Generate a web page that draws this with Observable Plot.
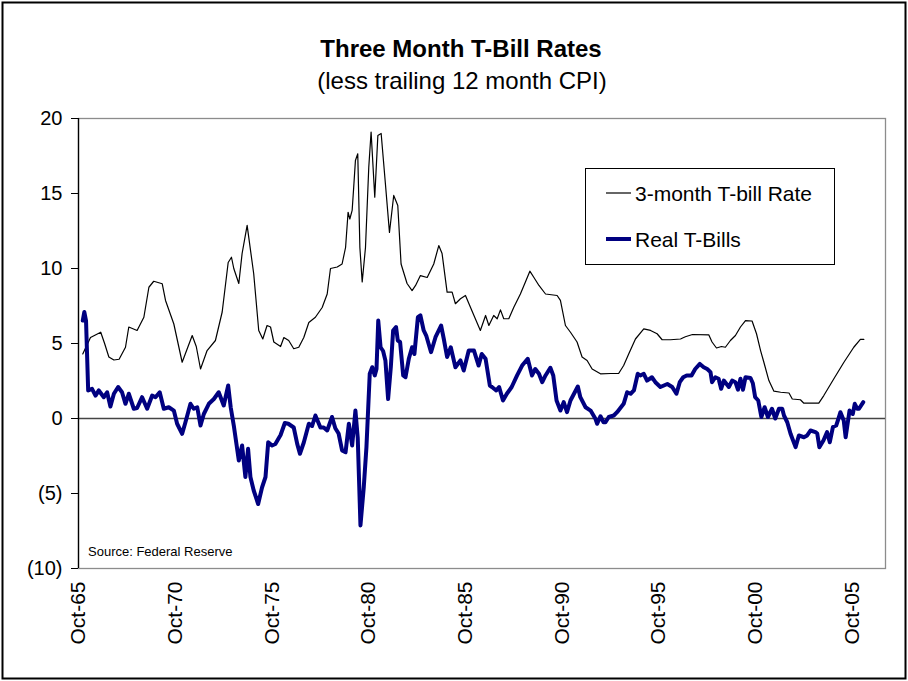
<!DOCTYPE html>
<html>
<head>
<meta charset="utf-8">
<script src="https://cdn.jsdelivr.net/npm/d3@7"></script>
<script src="https://cdn.jsdelivr.net/npm/@observablehq/plot@0.6"></script>
<style>
  html, body { margin: 0; padding: 0; background: white; }
  #chart { width: 908px; height: 681px; }
</style>
</head>
<body>
<div id="chart"></div>
<script>
// ---- Data (decimal years) ----
const tbillYears = [1965.97,1966.37,1966.9,1967.1,1967.32,1967.58,1967.85,1968.18,1968.35,1968.78,1969.13,1969.39,1969.64,1970.08,1970.25,1970.68,1971.11,1971.63,1971.84,1972.06,1972.4,1972.83,1973.18,1973.49,1973.66,1973.78,1974.04,1974.21,1974.47,1974.81,1975.07,1975.28,1975.5,1975.68,1975.85,1976.2,1976.37,1976.62,1976.88,1977.14,1977.4,1977.66,1978.0,1978.35,1978.61,1978.78,1979.13,1979.38,1979.56,1979.69,1979.78,1979.9,1979.98,1980.07,1980.19,1980.3,1980.42,1980.59,1980.76,1980.88,1981.07,1981.23,1981.4,1981.62,1981.83,1982.05,1982.26,1982.43,1982.74,1983.0,1983.18,1983.43,1983.78,1984.12,1984.38,1984.55,1984.81,1985.07,1985.24,1985.5,1985.76,1986.16,1986.53,1986.8,1986.97,1987.22,1987.4,1987.57,1987.74,1988.0,1988.26,1988.6,1988.86,1989.09,1989.3,1989.56,1989.9,1990.5,1990.67,1990.93,1991.19,1991.53,1991.79,1992.05,1992.31,1992.74,1993.26,1993.68,1993.94,1994.2,1994.55,1994.98,1995.33,1995.67,1995.93,1996.36,1996.88,1997.13,1997.5,1998.34,1998.51,1998.74,1999.0,1999.2,1999.46,1999.72,1999.98,2000.24,2000.58,2000.81,2001.02,2001.19,2001.45,2001.71,2002.06,2002.49,2002.66,2003.08,2003.26,2004.03,2004.29,2004.81,2005.33,2005.84,2006.18,2006.36];
const tbillRates = [4.3,5.4,5.75,5.0,4.1,3.9,3.95,4.75,6.1,5.87,6.75,8.75,9.15,8.98,7.87,6.3,3.75,5.53,4.8,3.3,4.53,5.2,7.1,10.4,10.75,10.0,9.0,11.0,12.87,9.65,5.87,5.3,6.2,6.1,5.1,4.8,5.4,5.2,4.65,4.75,5.4,6.4,6.75,7.4,8.3,10.0,10.1,10.3,11.4,13.75,13.3,13.87,15.4,17.2,17.65,11.4,9.1,11.4,16.75,19.1,14.75,18.87,19.0,15.65,12.4,14.87,14.2,10.3,9.0,8.53,8.87,9.53,9.4,10.3,11.53,11.0,8.42,8.42,7.65,7.98,8.2,6.98,5.87,6.87,6.2,6.87,6.65,7.24,6.65,6.65,7.42,8.3,9.1,9.82,9.4,8.87,8.3,8.2,7.87,6.2,5.75,5.1,4.1,3.87,3.3,2.98,3.0,3.0,3.53,4.3,5.3,5.98,5.87,5.65,5.25,5.25,5.3,5.45,5.6,5.58,5.1,4.7,4.8,4.75,5.2,5.53,6.1,6.53,6.5,5.65,4.53,3.75,2.53,1.82,1.75,1.7,1.3,1.25,1.02,1.02,1.53,2.65,3.75,4.75,5.27,5.27];

const realYears = [1965.97,1966.05,1966.14,1966.25,1966.45,1966.63,1966.8,1967.06,1967.23,1967.4,1967.58,1967.8,1968.0,1968.18,1968.35,1968.61,1968.78,1969.04,1969.3,1969.56,1969.73,1969.95,1970.16,1970.42,1970.68,1970.85,1971.11,1971.28,1971.54,1971.71,1971.89,1972.06,1972.23,1972.49,1972.75,1973.0,1973.26,1973.49,1973.62,1973.78,1974.04,1974.21,1974.38,1974.52,1974.64,1974.81,1975.04,1975.24,1975.42,1975.56,1975.76,1975.93,1976.2,1976.42,1976.6,1976.88,1977.06,1977.2,1977.4,1977.66,1977.83,1978.0,1978.26,1978.43,1978.61,1978.86,1979.03,1979.2,1979.38,1979.56,1979.73,1979.9,1980.07,1980.19,1980.33,1980.5,1980.64,1980.81,1980.94,1981.07,1981.16,1981.25,1981.37,1981.5,1981.62,1981.76,1981.9,1982.02,1982.17,1982.26,1982.38,1982.54,1982.66,1982.83,1983.0,1983.12,1983.3,1983.43,1983.6,1983.73,1983.98,1984.21,1984.5,1984.64,1984.81,1985.0,1985.24,1985.5,1985.67,1985.93,1986.2,1986.44,1986.6,1986.8,1987.02,1987.13,1987.35,1987.5,1987.7,1987.9,1988.15,1988.43,1988.69,1988.98,1989.2,1989.37,1989.56,1989.73,1989.9,1990.15,1990.3,1990.47,1990.67,1990.84,1991.01,1991.19,1991.57,1991.7,1991.97,1992.23,1992.48,1992.57,1992.74,1992.9,1993.0,1993.17,1993.43,1993.6,1993.94,1994.12,1994.3,1994.47,1994.67,1994.8,1994.98,1995.15,1995.4,1995.58,1995.84,1996.2,1996.45,1996.67,1996.84,1997.02,1997.2,1997.45,1997.64,1997.88,1998.08,1998.26,1998.43,1998.51,1998.68,1998.85,1998.98,1999.12,1999.38,1999.55,1999.72,1999.85,1999.98,2000.11,2000.24,2000.5,2000.62,2000.74,2000.9,2001.06,2001.23,2001.4,2001.61,2001.78,2001.97,2002.14,2002.23,2002.4,2002.57,2002.83,2003.0,2003.26,2003.43,2003.6,2003.86,2003.95,2004.06,2004.27,2004.46,2004.6,2004.76,2004.93,2005.05,2005.15,2005.32,2005.42,2005.62,2005.79,2005.89,2006.02,2006.11,2006.33];
const realRates = [6.53,7.1,6.5,1.87,1.98,1.53,1.87,1.42,1.75,0.8,1.65,2.1,1.75,0.98,1.65,0.65,0.7,1.42,0.65,1.53,1.42,1.75,0.65,0.75,0.53,-0.35,-1.02,-0.25,0.98,0.65,0.75,-0.47,0.3,0.98,1.3,1.75,0.87,2.2,0.75,-0.47,-2.8,-1.8,-3.9,-2.02,-3.9,-4.8,-5.7,-4.6,-3.9,-1.58,-1.8,-1.7,-1.1,-0.3,-0.35,-0.6,-1.69,-2.35,-1.6,-0.35,-0.5,0.2,-0.6,-0.6,-0.8,0.1,-0.65,-1.0,-2.13,-2.25,-0.35,-1.8,0.53,-1.3,-7.13,-4.6,-1.9,2.98,3.42,2.87,3.3,6.53,4.75,4.5,3.87,1.3,3.42,5.87,6.1,5.2,5.1,2.87,2.75,3.98,4.75,4.3,6.75,6.87,5.87,5.53,4.42,5.42,6.2,5.3,4.1,4.75,3.42,3.87,3.2,4.53,4.53,3.53,4.3,3.98,2.2,2.1,1.87,2.1,1.2,1.65,2.1,2.87,3.53,3.98,2.87,3.3,2.98,2.42,2.87,3.38,2.87,1.2,0.53,1.09,0.42,1.2,2.13,1.42,0.75,0.53,-0.02,-0.35,0.15,-0.25,-0.25,0.1,0.2,0.42,0.98,1.75,1.65,1.87,2.98,2.87,2.98,2.53,2.75,2.42,2.1,2.3,2.1,1.65,2.42,2.75,2.87,2.87,3.3,3.64,3.42,3.3,3.09,2.42,2.75,2.65,1.98,2.53,2.1,2.53,2.42,1.92,2.65,1.92,2.75,2.7,2.35,1.42,1.2,0.1,0.75,0.1,0.65,0.0,0.65,0.65,0.2,-0.25,-1.02,-1.91,-1.13,-1.25,-1.13,-0.8,-0.91,-1.0,-1.91,-1.47,-0.91,-1.58,-0.57,-0.47,0.0,0.42,-0.13,-1.25,0.53,0.3,0.98,0.65,0.65,1.09];

const xTickYears = [1965.75,1970.75,1975.75,1980.75,1985.75,1990.75,1995.75,2000.75,2005.75];
const xTickLabels = ["Oct-65","Oct-70","Oct-75","Oct-80","Oct-85","Oct-90","Oct-95","Oct-00","Oct-05"];
const yTicks = [-10,-5,0,5,10,15,20];
const yTickLabels = ["(10)","(5)","0","5","10","15","20"];
const seriesNames = ["3-month T-bill Rate","Real T-Bills"];

const tbill = tbillYears.map((x, i) => ({x, y: tbillRates[i]}));
const real = realYears.map((x, i) => ({x, y: realRates[i]}));

const font = "'Liberation Sans', Arial, Helvetica, sans-serif";
const navy = "#000080";

const chart = Plot.plot({
  width: 908,
  height: 681,
  marginLeft: 78,
  marginRight: 23,
  marginTop: 118,
  marginBottom: 113,
  style: {fontFamily: font, background: "white", color: "black"},
  x: {type: "linear", domain: [1965.75, 2007.48]},
  y: {domain: [-10, 20]},
  marks: [
    Plot.frame({stroke: "#8c8c8c", strokeWidth: 1.3}),
    Plot.ruleY([0], {stroke: "#444", strokeWidth: 1.3}),
    Plot.ruleX([1965.75], {stroke: "black", strokeWidth: 1.3}),
    Plot.axisY({
      ticks: yTicks,
      tickFormat: d => yTickLabels[yTicks.indexOf(d)],
      tickSize: 7,
      tickPadding: 9,
      fontSize: 20,
      label: null
    }),
    Plot.axisX({
      ticks: xTickYears,
      tickFormat: d => xTickLabels[xTickYears.indexOf(d)],
      tickSize: 0,
      tickPadding: 13,
      tickRotate: -90,
      fontSize: 21,
      label: null
    }),
    Plot.line(tbill, {x: "x", y: "y", stroke: "black", strokeWidth: 1.2}),
    Plot.line(real, {x: "x", y: "y", stroke: navy, strokeWidth: 4, strokeLinejoin: "round"})
  ]
});

document.getElementById("chart").appendChild(chart);

// Annotations: border, title, subtitle, legend, source
const svg = d3.select(chart);
svg.append("rect")
  .attr("x", 2.5).attr("y", 2.5).attr("width", 903).attr("height", 676)
  .attr("fill", "none").attr("stroke", "black").attr("stroke-width", 2);

svg.append("text")
  .attr("x", 461).attr("y", 57)
  .attr("text-anchor", "middle")
  .attr("font-family", font).attr("font-size", 24).attr("font-weight", "bold")
  .text("Three Month T-Bill Rates");
svg.append("text")
  .attr("x", 462).attr("y", 89)
  .attr("text-anchor", "middle")
  .attr("font-family", font).attr("font-size", 24)
  .text("(less trailing 12 month CPI)");

const lg = svg.append("g");
lg.append("rect")
  .attr("x", 585.5).attr("y", 168.5).attr("width", 249).attr("height", 96)
  .attr("fill", "white").attr("stroke", "black").attr("stroke-width", 1);
lg.append("line").attr("x1", 606).attr("x2", 631).attr("y1", 193).attr("y2", 193)
  .attr("stroke", "black").attr("stroke-width", 1.2);
lg.append("text").attr("x", 635).attr("y", 200.5)
  .attr("text-anchor", "start")
  .attr("font-family", font).attr("font-size", 21).text(seriesNames[0]);
lg.append("line").attr("x1", 606).attr("x2", 631).attr("y1", 239).attr("y2", 239)
  .attr("stroke", navy).attr("stroke-width", 4);
lg.append("text").attr("x", 635).attr("y", 247)
  .attr("text-anchor", "start")
  .attr("font-family", font).attr("font-size", 21).text(seriesNames[1]);

svg.append("text")
  .attr("x", 88).attr("y", 556)
  .attr("text-anchor", "start")
  .attr("font-family", font).attr("font-size", 13)
  .text("Source: Federal Reserve");
</script>
</body>
</html>
